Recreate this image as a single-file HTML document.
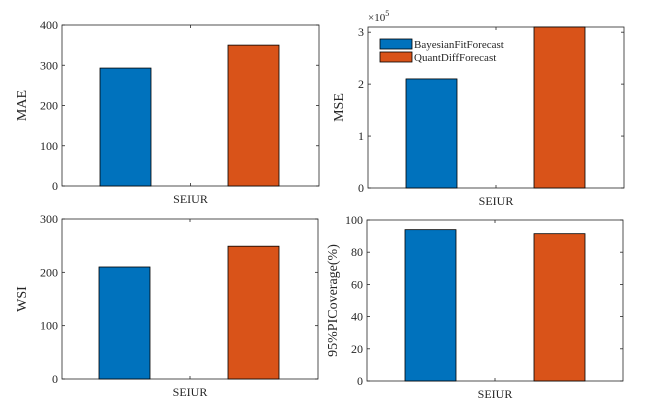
<!DOCTYPE html>
<html><head><meta charset="utf-8"><style>
body{margin:0;background:#fff;width:647px;height:406px;overflow:hidden}
svg text{font-family:"Liberation Serif",serif;fill:#262626}
</style></head><body>
<svg id="c" width="647" height="406"></svg>
<script>
const categories=["SEIUR"];
const seriesNames=["BayesianFitForecast","QuantDiffForecast"];
const maeValues=[293,350];
const mseValues=[2.1,3.1];
const wsiValues=[210,249];
const coverageValues=[94,91.5];
const maeTicks=[0,100,200,300,400];
const mseTicks=[0,1,2,3];
const wsiTicks=[0,100,200,300];
const covTicks=[0,20,40,60,80,100];
const colors=["#0072BD","#D95319"];
const NS="http://www.w3.org/2000/svg";
const svg=document.getElementById('c');
function mk(t,a,p){const e=document.createElementNS(NS,t);for(const k in a)e.setAttribute(k,a[k]);(p||svg).appendChild(e);return e;}
const panels=[
 {name:'mae',x0:62,x1:319,yT:25,yB:186,max:400,vals:maeValues,ticks:maeTicks,label:'MAE',bx:[100,228],lx:26},
 {name:'mse',x0:368,x1:624,yT:27,yB:188,max:3.1,vals:mseValues,ticks:mseTicks,label:'MSE',bx:[406,534],exp:true,legend:true,lx:343},
 {name:'wsi',x0:62,x1:318,yT:219,yB:379,max:300,vals:wsiValues,ticks:wsiTicks,label:'WSI',bx:[99,228],lx:26},
 {name:'coverage',x0:367,x1:623,yT:220,yB:381,max:100,vals:coverageValues,ticks:covTicks,label:'95%PICoverage(%)',bx:[405,534],lx:337}
];
panels.forEach(p=>{
 const g=mk('g',{});
 
 
 const y=v=>p.yB-(v/p.max)*(p.yB-p.yT);
 mk('rect',{x:p.x0,y:p.yT,width:p.x1-p.x0,height:p.yB-p.yT,fill:'#fff',stroke:'#262626','stroke-width':0.8},g);
 p.ticks.forEach(t=>{
  const yy=y(t);
  mk('line',{x1:p.x0,x2:p.x0+3,y1:yy,y2:yy,stroke:'#262626','stroke-width':0.8},g);
  mk('line',{x1:p.x1-3,x2:p.x1,y1:yy,y2:yy,stroke:'#262626','stroke-width':0.8},g);
  const tx=mk('text',{x:p.x0-4,y:yy+4,'text-anchor':'end','font-size':12},g);tx.textContent=t;
  
  
 });
 const cx=(p.x0+p.x1)/2;
 mk('line',{x1:cx,x2:cx,y1:p.yB,y2:p.yB-3,stroke:'#262626','stroke-width':0.8},g);
 mk('line',{x1:cx,x2:cx,y1:p.yT,y2:p.yT+3,stroke:'#262626','stroke-width':0.8},g);
 p.vals.forEach((v,i)=>{
  const r=mk('rect',{x:p.bx[i],y:y(v),width:51,height:p.yB-y(v),fill:colors[i],stroke:'#000','stroke-width':0.8},g);
  
  
 });
 const xl=mk('text',{x:cx,y:p.yB+17,'text-anchor':'middle','font-size':12},g);xl.textContent=categories[0];
 
 
 const lx=p.lx,ly=(p.yT+p.yB)/2;
 const yl=mk('text',{x:lx,y:ly,'text-anchor':'middle','font-size':14,transform:`rotate(-90 ${lx} ${ly})`},g);yl.textContent=p.label;
 
 
 if(p.exp){
  const e=mk('text',{x:p.x0,y:p.yT-6,'font-size':11},g);e.innerHTML='×10<tspan dy="-5" font-size="8">5</tspan>';
  
  
 }
 if(p.legend){
  seriesNames.forEach((n,i)=>{
   const yy=39+i*13;
   mk('rect',{x:380,y:yy,width:32,height:10,fill:colors[i],stroke:'#000','stroke-width':0.8},g);
   const t=mk('text',{x:414,y:yy+9,'font-size':11},g);t.textContent=n;
   
   
  });
 }
});
</script>
</body></html>
